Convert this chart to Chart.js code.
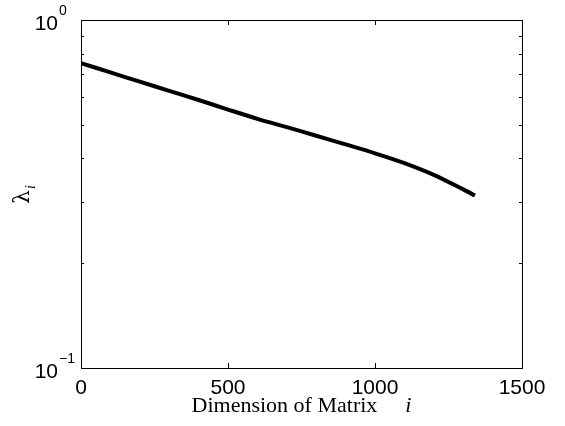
<!DOCTYPE html>
<html>
<head>
<meta charset="utf-8">
<script src="https://cdn.jsdelivr.net/npm/chart.js@4/dist/chart.umd.min.js"></script>
<style>
  body { margin: 0; background: #ffffff; }
  canvas { display: block; }
</style>
</head>
<body>
<canvas id="eigChart" width="565" height="426"></canvas>
<script>
// values
const dims = [0, 100, 200, 300, 400, 500, 600, 700, 800, 900, 1000, 1100, 1200, 1300, 1340];
const lambdas = [0.752, 0.707, 0.665, 0.626, 0.589, 0.553, 0.520, 0.492, 0.465, 0.439, 0.414, 0.388, 0.359, 0.326, 0.313];
const xTicks = [0, 500, 1000, 1500];
const yMajor = [0.1, 1];
const yMinor = [0.2, 0.3, 0.4, 0.5, 0.6, 0.7, 0.8, 0.9];

const points = dims.map(function (d, i) {
    return { x: d, y: lambdas[i] };
});

const matlabAxes = {
    id: 'matlabAxes',
    afterDraw: function (chart) {
        const ctx = chart.ctx;
        const area = chart.chartArea;
        const xs = chart.scales.x;
        const ys = chart.scales.y;

        ctx.save();
        ctx.strokeStyle = '#000';
        ctx.lineWidth = 1;
        ctx.strokeRect(area.left + 0.5, area.top + 0.5, area.right - area.left, area.bottom - area.top);

        ctx.beginPath();
        xTicks.forEach(function (t) {
            const px = Math.round(xs.getPixelForValue(t)) + 0.5;
            ctx.moveTo(px, area.bottom);
            ctx.lineTo(px, area.bottom - 5);
            ctx.moveTo(px, area.top);
            ctx.lineTo(px, area.top + 5);
        });
        yMinor.forEach(function (t) {
            const py = Math.round(ys.getPixelForValue(t)) + 0.5;
            ctx.moveTo(area.left, py);
            ctx.lineTo(area.left + 3, py);
            ctx.moveTo(area.right, py);
            ctx.lineTo(area.right - 3, py);
        });
        ctx.stroke();

        ctx.fillStyle = '#000';
        ctx.font = '21px "Liberation Sans", Arial, sans-serif';
        ctx.textAlign = 'center';
        ctx.textBaseline = 'alphabetic';
        xTicks.forEach(function (t) {
            ctx.fillText(String(t), xs.getPixelForValue(t), area.bottom + 26);
        });

        yMajor.forEach(function (t) {
            const py = ys.getPixelForValue(t);
            const exp = Math.round(Math.log10(t));
            const expText = exp < 0 ? '\u2212' + Math.abs(exp) : String(exp);
            ctx.font = '21px "Liberation Sans", Arial, sans-serif';
            ctx.textAlign = 'right';
            ctx.fillText('10', area.left - 23, py + 9.5);
            ctx.font = '14px "Liberation Sans", Arial, sans-serif';
            ctx.textAlign = 'left';
            ctx.fillText(expText, area.left - 22, py - 5.5);
        });

        // x axis title
        const serif = '"Liberation Serif", "Times New Roman", serif';
        const mainText = 'Dimension of Matrix';
        ctx.font = '22px ' + serif;
        const mW = ctx.measureText(mainText).width;
        const gap = 28;
        ctx.font = 'italic 22px ' + serif;
        const iW = ctx.measureText('i').width;
        const cx = (area.left + area.right) / 2;
        const startX = cx - (mW + gap + iW) / 2;
        ctx.textAlign = 'left';
        ctx.font = '22px ' + serif;
        ctx.fillText(mainText, startX, area.bottom + 44);
        ctx.font = 'italic 22px ' + serif;
        ctx.fillText('i', startX + mW + gap, area.bottom + 44);

        // y axis title
        ctx.translate(29, (area.top + area.bottom) / 2);
        ctx.rotate(-Math.PI / 2);
        ctx.font = '22px "DejaVu Serif", serif';
        ctx.textAlign = 'center';
        ctx.fillText('\u03bb', -3, 0);
        ctx.font = 'italic 14px "Liberation Serif", serif';
        ctx.textAlign = 'left';
        ctx.fillText('i', 5, 6);
        ctx.restore();
    }
};

new Chart(document.getElementById('eigChart'), {
    type: 'line',
    data: {
        datasets: [{
            data: points,
            borderColor: '#000000',
            borderWidth: 4,
            pointRadius: 0,
            tension: 0.3,
            fill: false
        }]
    },
    options: {
        responsive: false,
        animation: false,
        layout: {
            padding: { left: 81, right: 43, top: 20, bottom: 58 }
        },
        plugins: {
            legend: { display: false },
            tooltip: { enabled: false }
        },
        scales: {
            x: { type: 'linear', min: 0, max: 1500, display: false },
            y: { type: 'logarithmic', min: 0.1, max: 1, display: false }
        }
    },
    plugins: [matlabAxes]
});
</script>
</body>
</html>
